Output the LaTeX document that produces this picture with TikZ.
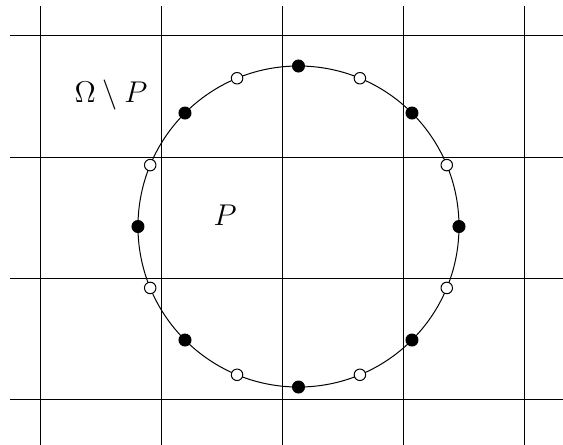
\documentclass[tikz,border=0pt]{standalone}
\usepackage{tikz}
\usetikzlibrary{positioning, calc}

\begin{document}
\begin{tikzpicture}[
    x=1.7cm, y=1.7cm,
    grid/.style={line width=0.4pt, black},
    boundary/.style={line width=0.4pt, black},
    inner/.style={circle, draw=black, fill=black, inner sep=0pt, minimum size=4.8pt},
    outer/.style={circle, draw=black, fill=white, inner sep=0pt, minimum size=4.6pt},
    region/.style={font=\large}
  ]
    \useasboundingbox (-0.3306,-0.372) rectangle (4.322,3.2975);
    % grid
    \foreach \i in {0,...,4}
      \draw[grid] (\i,-0.4) -- (\i,3.248);
    \foreach \j in {0,...,3}
      \draw[grid] (-0.248,\j) -- (4.4,\j);

    % boundary of P
    \coordinate (c) at (2.136,1.4256);
    \draw[boundary] (c) circle[radius=1.3264];

    % points on the boundary
    \foreach \a [count=\k] in {0,45,...,315}
      \node[inner] (in\k) at ($(c)+(\a:1.3264)$) {};
    \foreach \a [count=\k] in {22.5,67.5,...,337.5}
      \node[outer] (out\k) at ($(c)+(\a:1.3264)$) {};

    \node[region] (omp) at (0.587,2.51) {$\Omega\setminus P$};
    \node[region] (p) at (1.529,1.52) {$P$};
  \end{tikzpicture}
\end{document}
